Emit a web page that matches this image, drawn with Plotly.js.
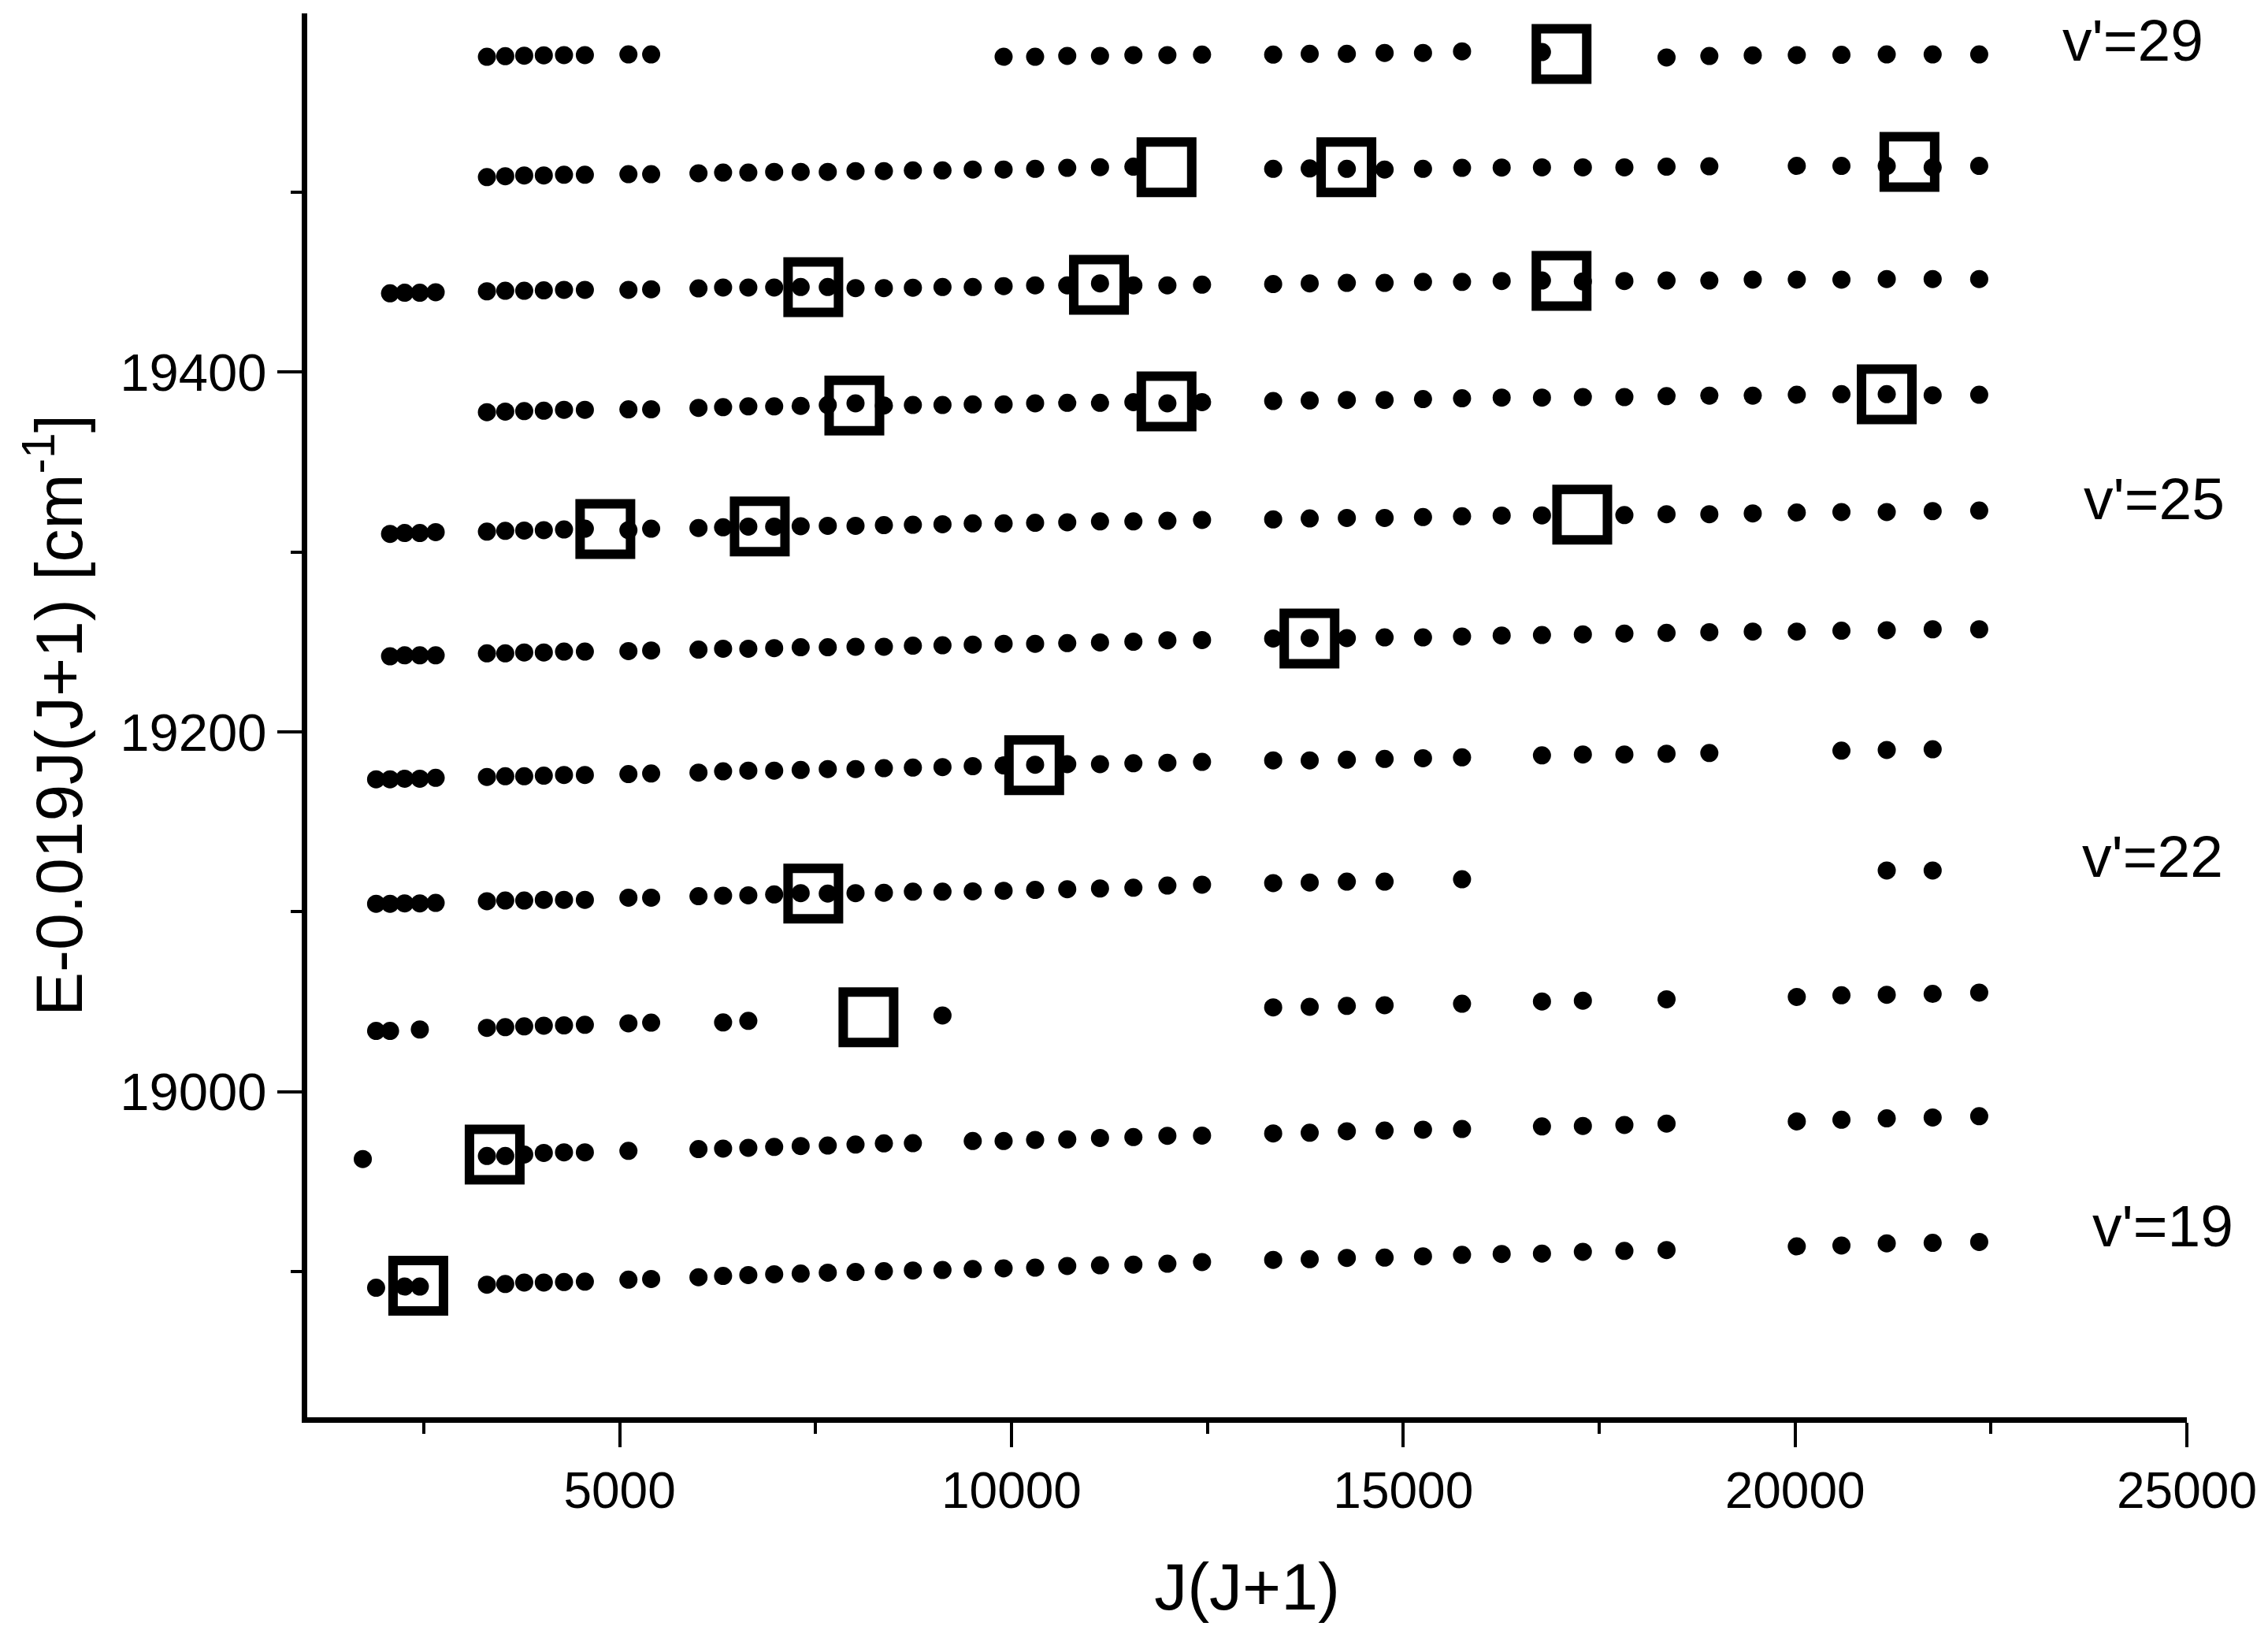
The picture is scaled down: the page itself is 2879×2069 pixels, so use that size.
<!DOCTYPE html>
<html>
<head>
<meta charset="utf-8">
<script src="https://cdn.plot.ly/plotly-3.0.1.min.js"></script>
<style>html,body{margin:0;padding:0;background:#fff;}#chart{width:2879px;height:2069px;}</style>
</head>
<body>
<div id="chart"></div>
<script>
// J(J+1) values and E-0.019J(J+1) values for each vibrational level v'
const x29 = [3306,3540,3782,4032,4290,4556,5112,5402,9900,10302,10712,11130,11556,11990,12432,13340,13806,14280,14762,15252,15750,16770,18360,18906,19460,20022,20592,21170,21756,22350];
const y29 = [19575.4,19575.7,19576,19576.2,19576.3,19576.3,19576.7,19576.7,19575.4,19575.4,19575.9,19575.9,19576.3,19576.3,19576.6,19576.6,19577,19577,19577.5,19577.5,19578.4,19578,19575,19575.8,19576.2,19576.3,19576.5,19576.7,19576.7,19576.7];

const x28 = [3306,3540,3782,4032,4290,4556,5112,5402,6006,6320,6642,6972,7310,7656,8010,8372,8742,9120,9506,9900,10302,10712,11130,11556,13340,13806,14280,14762,15252,15750,16256,16770,17292,17822,18360,18906,20022,20592,21170,21756,22350];
const y28 = [19508.5,19509,19509.4,19509.4,19509.8,19509.8,19510.1,19510.1,19510.6,19511,19511,19511.4,19511.4,19511.4,19511.8,19511.8,19512.2,19512.2,19512.7,19512.7,19513.1,19513.6,19514,19514.3,19513.1,19513.3,19513.1,19512.7,19513.1,19513.6,19513.8,19513.9,19513.9,19513.9,19514.3,19514.5,19514.7,19514.7,19514.7,19513.9,19514.7];

const x27 = [2070,2256,2450,2652,3306,3540,3782,4032,4290,4556,5112,5402,6006,6320,6642,6972,7310,7656,8010,8372,8742,9120,9506,9900,10302,10712,11130,11556,11990,12432,13340,13806,14280,14762,15252,15750,16256,16770,17292,17822,18360,18906,19460,20022,20592,21170,21756,22350];
const y27 = [19443.9,19444.2,19444.2,19444.5,19445,19445.3,19445.3,19445.5,19445.8,19445.8,19445.8,19446.1,19446.6,19447.1,19447.1,19447.1,19447.4,19447.4,19446.8,19446.8,19447,19447.4,19447.4,19447.9,19448.3,19448.3,19449.4,19448.3,19448.3,19448.7,19449,19449.4,19449.7,19449.7,19450.2,19450.2,19450.7,19451,19450.5,19450.7,19451,19451,19451.5,19451.5,19451.5,19451.8,19451.8,19451.8];

const x26 = [3306,3540,3782,4032,4290,4556,5112,5402,6006,6320,6642,6972,7310,7656,8010,8372,8742,9120,9506,9900,10302,10712,11130,11556,11990,12432,13340,13806,14280,14762,15252,15750,16256,16770,17292,17822,18360,18906,19460,20022,20592,21170,21756,22350];
const y26 = [19377.8,19378.1,19378.4,19378.6,19379.1,19379.1,19379.4,19379.4,19380.2,19380.6,19381,19381,19381.3,19381.8,19382.7,19381.5,19381.8,19381.8,19382.1,19382.1,19382.7,19383,19383,19383.4,19382.7,19383.4,19384,19384.3,19384.6,19384.6,19385.1,19385.5,19385.9,19385.9,19386.2,19386.2,19386.7,19387,19387,19387.5,19387.8,19387.8,19387.2,19387.5];

const x25 = [2070,2256,2450,2652,3306,3540,3782,4032,4290,4556,5112,5402,6006,6320,6642,6972,7310,7656,8010,8372,8742,9120,9506,9900,10302,10712,11130,11556,11990,12432,13340,13806,14280,14762,15252,15750,16256,16770,17822,18360,18906,19460,20022,20592,21170,21756,22350];
const y25 = [19310.1,19310.6,19310.6,19311.1,19311.4,19311.8,19312,19312.2,19312.6,19313,19312.2,19313,19313.4,19313.8,19314.2,19314.2,19314.4,19314.6,19314.6,19315,19315.2,19315.5,19316,19316,19316.3,19316.6,19317.1,19317.1,19317.4,19317.9,19318.2,19318.7,19319,19319,19319.5,19319.9,19320.3,19320.4,19320.6,19321.1,19321.1,19321.5,19322,19322.3,19322.3,19322.8,19323.1];

const x24 = [2070,2256,2450,2652,3306,3540,3782,4032,4290,4556,5112,5402,6006,6320,6642,6972,7310,7656,8010,8372,8742,9120,9506,9900,10302,10712,11130,11556,11990,12432,13340,13806,14280,14762,15252,15750,16256,16770,17292,17822,18360,18906,19460,20022,20592,21170,21756,22350];
const y24 = [19242.1,19242.6,19242.6,19242.6,19243.7,19243.7,19244.2,19244.2,19244.7,19244.7,19245,19245.3,19245.8,19246.3,19246.3,19246.6,19247.1,19247.1,19247.4,19247.4,19248,19248.2,19248.6,19249,19249,19249.4,19249.8,19250.2,19251,19251.1,19252,19252.2,19252.2,19252.6,19252.6,19253.1,19253.6,19253.9,19254.3,19254.7,19255.1,19255.5,19255.8,19255.8,19256.3,19256.6,19257.1,19257.1];

const x23 = [1892,2070,2256,2450,2652,3306,3540,3782,4032,4290,4556,5112,5402,6006,6320,6642,6972,7310,7656,8010,8372,8742,9120,9506,9900,10302,10712,11130,11556,11990,12432,13340,13806,14280,14762,15252,15750,16770,17292,17822,18360,18906,20592,21170,21756];
const y23 = [19173.7,19173.7,19174,19174,19174.5,19175,19175.4,19175.4,19175.7,19176.1,19176.1,19176.6,19176.9,19177.4,19178.1,19178.5,19178.5,19178.9,19179.4,19179.4,19179.9,19180.2,19180.5,19181,19181.4,19181.8,19182.1,19182.1,19182.6,19182.9,19183.4,19184.2,19184.2,19184.6,19185,19185.4,19185.9,19187,19187.5,19187.5,19187.9,19188.3,19189.6,19190,19190.4];

const x22 = [1892,2070,2256,2450,2652,3306,3540,3782,4032,4290,4556,5112,5402,6006,6320,6642,6972,7310,7656,8010,8372,8742,9120,9506,9900,10302,10712,11130,11556,11990,12432,13340,13806,14280,14762,15750,21170,21756];
const y22 = [19104.5,19104.5,19104.7,19104.7,19105,19105.9,19106.3,19106.3,19106.7,19106.7,19106.7,19107.9,19107.9,19108.7,19109,19109.2,19109.7,19110.4,19110.2,19110.4,19110.6,19111.2,19111.2,19111.4,19111.7,19112.2,19112.6,19113,19113.4,19114.6,19115.1,19116,19116.3,19116.8,19116.8,19118.1,19123,19123];

const x21 = [1892,2070,2450,3306,3540,3782,4032,4290,4556,5112,5402,6320,6642,9120,13340,13806,14280,14762,15750,16770,17292,18360,20022,20592,21170,21756,22350];
const y21 = [19033.8,19033.8,19034.6,19035.5,19035.9,19036.3,19036.7,19036.9,19037.2,19038,19038.4,19038.5,19039.4,19042.4,19046.9,19047.2,19047.7,19048.1,19048.9,19050.2,19050.6,19051.4,19052.7,19053.6,19053.9,19054.4,19055.1];

const x20 = [1722,3306,3540,3782,4032,4290,4556,5112,6006,6320,6642,6972,7310,7656,8010,8372,8742,9506,9900,10302,10712,11130,11556,11990,12432,13340,13806,14280,14762,15252,15750,16770,17292,17822,18360,20022,20592,21170,21756,22350];
const y20 = [18962.6,18964.3,18964.3,18965.1,18966,18966.3,18966.3,18967.1,18968.1,18968.4,18968.8,18969.3,18969.8,18970.1,18970.6,18971.3,18971.4,18972.6,18972.6,18973.2,18973.5,18974.3,18974.8,18975.5,18975.6,18976.8,18977.2,18978,18978.4,18978.9,18979.3,18980.7,18981,18981.5,18982.3,18983.5,18984.4,18985.2,18985.7,18986.4];

const x19 = [1892,2256,2450,3306,3540,3782,4032,4290,4556,5112,5402,6006,6320,6642,6972,7310,7656,8010,8372,8742,9120,9506,9900,10302,10712,11130,11556,11990,12432,13340,13806,14280,14762,15252,15750,16256,16770,17292,17822,18360,20022,20592,21170,21756,22350];
const y19 = [18891,18891.7,18891.7,18892.7,18893.1,18893.9,18893.9,18894.2,18894.4,18895.5,18895.9,18896.9,18897.6,18898.1,18898.5,18898.9,18899.4,18899.8,18900.2,18900.6,18900.9,18901.4,18901.8,18902.2,18903.1,18903.5,18903.9,18904.4,18905.3,18906.5,18906.9,18907.6,18907.8,18908.5,18909.3,18909.8,18910,18911,18911.5,18912,18914,18914.5,18915.7,18916,18916.5];

// highlighted (open square) points
const boxX = [17020,11979,14274,21460,7471,11117,17020,7995,11979,21170,4817,6788,17284,13803,10290,7471,8175,3405,2430];
const boxY = [19576.9,19514,19514,19516.9,19447.3,19448.6,19450.8,19381.5,19383.8,19387.7,19312.8,19314.3,19320.8,19252,19181.5,19110.2,19041.4,18965.1,18892.1];

// level labels
const levelLabels = ["v'=29", "v'=25", "v'=22", "v'=19"];

const rows = [[x29,y29],[x28,y28],[x27,y27],[x26,y26],[x25,y25],[x24,y24],[x23,y23],[x22,y22],[x21,y21],[x20,y20],[x19,y19]];
const FONT = 'Arial, "Liberation Sans", sans-serif';

const traces = rows.map(function(r){
  return {x: r[0], y: r[1], type: 'scatter', mode: 'markers', showlegend: false, hoverinfo: 'skip',
          marker: {symbol: 'circle', size: 23, color: '#000', line: {width: 0}}};
});
traces.push({x: boxX, y: boxY, type: 'scatter', mode: 'markers', showlegend: false, hoverinfo: 'skip',
  marker: {symbol: 'square-open', size: 64, color: '#000', line: {width: 12, color: '#000'}}});

const labelPos = [[0.9715,0.9812],[0.9828,0.6543],[0.9816,0.3994],[0.9874,0.1361]];
const annotations = levelLabels.map(function(t,i){
  return {text: t, xref: 'paper', yref: 'paper', x: labelPos[i][0], y: labelPos[i][1],
          xanchor: 'center', yanchor: 'middle', showarrow: false, font: {family: FONT, size: 75, color: '#000'}};
});

const layout = {
  width: 2879, height: 2069,
  margin: {l: 390, r: 103, t: 17, b: 270, pad: 0},
  paper_bgcolor: '#fff', plot_bgcolor: '#fff',
  font: {family: FONT, color: '#000'},
  showlegend: false,
  xaxis: {
    range: [1013, 25000], showgrid: false, zeroline: false,
    showline: true, linewidth: 7, linecolor: '#000', mirror: false,
    ticks: 'outside', ticklen: 31, tickwidth: 4, tickcolor: '#000',
    tick0: 0, dtick: 5000, tickformat: 'd',
    tickfont: {family: FONT, size: 64, color: '#000'},
    minor: {dtick: 2500, ticks: 'outside', ticklen: 14, tickwidth: 4, tickcolor: '#000', showgrid: false},
    title: {text: 'J(J+1)', font: {family: FONT, size: 84, color: '#000'}, standoff: 60},
    automargin: false
  },
  yaxis: {
    range: [18819, 19599.5], showgrid: false, zeroline: false,
    showline: true, linewidth: 7, linecolor: '#000', mirror: false,
    ticks: 'outside', ticklen: 31, tickwidth: 4, tickcolor: '#000',
    tick0: 19000, dtick: 200, tickformat: 'd',
    tickfont: {family: FONT, size: 67, color: '#000'},
    minor: {dtick: 100, ticks: 'outside', ticklen: 14, tickwidth: 4, tickcolor: '#000', showgrid: false},
    title: {text: 'E-0.019J(J+1) [cm<sup>-1</sup>]', font: {family: FONT, size: 84, color: '#000'}, standoff: 22},
    automargin: false
  },
  annotations: annotations
};

Plotly.newPlot('chart', traces, layout, {staticPlot: true, displayModeBar: false});
</script>
</body>
</html>
